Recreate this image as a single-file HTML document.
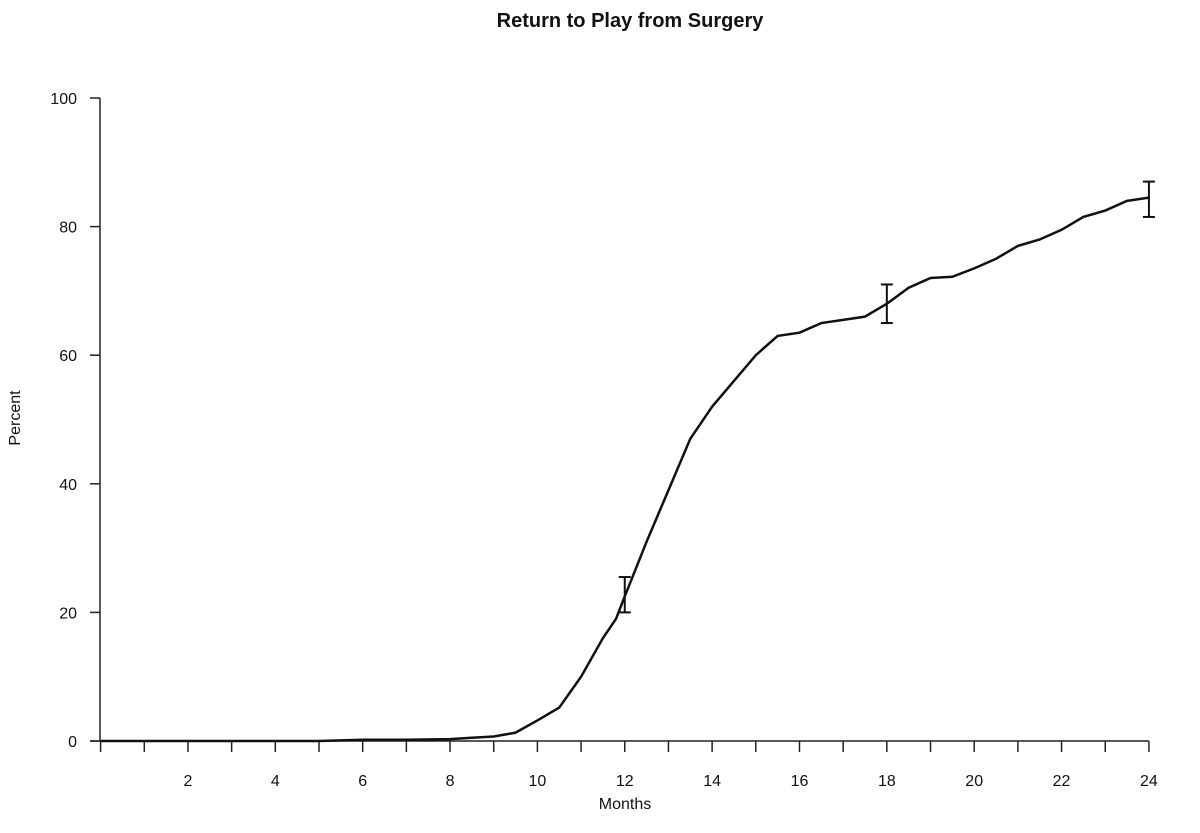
<!DOCTYPE html>
<html><head><meta charset="utf-8"><style>
body{margin:0;background:#fff;}
svg text{font-family:"Liberation Sans",sans-serif;fill:#111;}
</style></head><body>
<svg id="chart" width="1200" height="828">
<text x="630" y="27" text-anchor="middle" font-size="20" font-weight="bold">Return to Play from Surgery</text>
<text transform="translate(20,418) rotate(-90)" text-anchor="middle" font-size="16">Percent</text>
<text x="625" y="809" text-anchor="middle" font-size="16">Months</text>
<g id="axes"></g><g id="marks"></g>
</svg>
<script>
const months=[0,5,6,7,8,8.5,9,9.5,10,10.5,11,11.5,11.8,12,12.5,13,13.5,14,14.5,15,15.5,16,16.5,17,17.5,18,18.5,19,19.5,20,20.5,21,21.5,22,22.5,23,23.5,24];
const percent=[0,0,0.2,0.2,0.3,0.5,0.7,1.3,3.2,5.2,10,16,19,22.5,31,39,47,52,56,60,63,63.5,65,65.5,66,68,70.5,72,72.2,73.5,75,77,78,79.5,81.5,82.5,84,84.5];
const errMonths=[12,18,24];
const errLow=[20,65,81.5];
const errHigh=[25.5,71,87];
const xTicks=[2,4,6,8,10,12,14,16,18,20,22,24];
const yTicks=[0,20,40,60,80,100];
const NS="http://www.w3.org/2000/svg";
const X=m=>100.6+m*43.68, Y=v=>741-v*6.43;
function mk(tag,attrs,parent){const e=document.createElementNS(NS,tag);for(const k in attrs)e.setAttribute(k,attrs[k]);parent.appendChild(e);return e;}
const ax=document.getElementById('axes'), mg=document.getElementById('marks');
let a=mk('line',{x1:100,y1:Y(100),x2:100,y2:Y(0),stroke:'#222','stroke-width':1.5},ax);


a=mk('line',{x1:90,y1:Y(0),x2:X(24),y2:Y(0),stroke:'#222','stroke-width':1.5},ax);


yTicks.forEach(v=>{const t=mk('line',{x1:90,y1:Y(v),x2:100,y2:Y(v),stroke:'#222','stroke-width':1.5},ax);


const l=mk('text',{x:77,y:Y(v)+6,'text-anchor':'end','font-size':16},ax);l.textContent=v;

});
for(let m=0;m<=24;m++){const t=mk('line',{x1:X(m),y1:Y(0),x2:X(m),y2:Y(0)+11,stroke:'#222','stroke-width':1.5},ax);

}
xTicks.forEach(m=>{const l=mk('text',{x:X(m),y:786,'text-anchor':'middle','font-size':16},ax);l.textContent=m;

});
const p=mk('polyline',{points:months.map((m,i)=>X(m)+','+Y(percent[i])).join(' '),fill:'none',stroke:'#111','stroke-width':2.5},mg);


errMonths.forEach((m,i)=>{const g=mk('g',{stroke:'#111','stroke-width':2},mg);


mk('line',{x1:X(m),y1:Y(errLow[i]),x2:X(m),y2:Y(errHigh[i])},g);
mk('line',{x1:X(m)-6,y1:Y(errLow[i]),x2:X(m)+6,y2:Y(errLow[i])},g);
mk('line',{x1:X(m)-6,y1:Y(errHigh[i]),x2:X(m)+6,y2:Y(errHigh[i])},g);});
</script>
</body></html>
